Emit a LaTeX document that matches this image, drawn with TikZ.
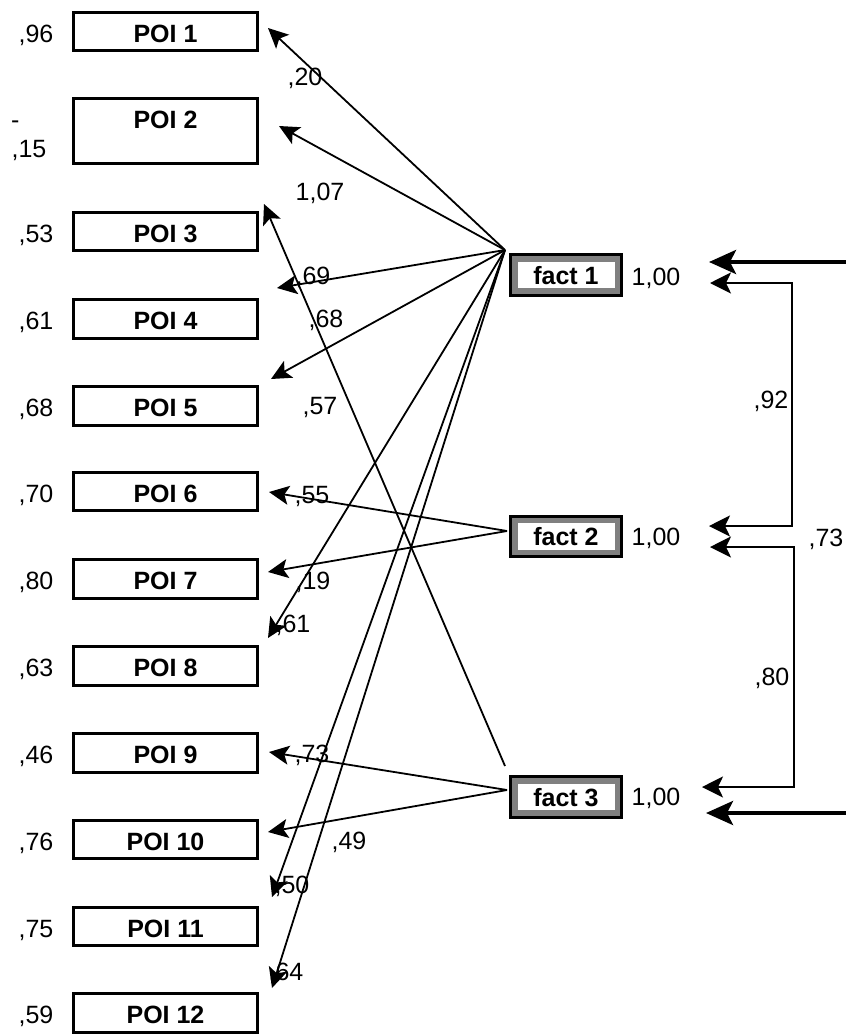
\documentclass[tikz,border=0pt]{standalone}
\usepackage{fontspec}
\setmainfont{Liberation Sans}
\usetikzlibrary{arrows.meta}
\definecolor{fgray}{RGB}{128,128,128}
\begin{document}
\begin{tikzpicture}[x=1pt,y=-1pt,
  every node/.style={font=\fontsize{25}{30}\selectfont},
  poi/.style={draw, line width=3pt, minimum width=184pt, minimum height=38.5pt,
    inner sep=0pt, font=\fontsize{25}{30}\selectfont\bfseries, text height=21pt, text depth=0pt},
  fact/.style={draw, line width=3pt, fill=fgray, minimum width=111pt, minimum height=40.5pt,
    inner sep=0pt, font=\fontsize{25}{30}\selectfont\bfseries, text height=18pt, text depth=0pt,
    path picture={\fill[white] ([shift={(7pt,7pt)}]path picture bounding box.south west)
      rectangle ([shift={(-7pt,-7pt)}]path picture bounding box.north east);}},
  lbl/.style={inner sep=0pt, text height=17.6pt, text depth=0pt},
  load/.style={line width=1.8pt, -{Stealth[length=20pt,width=19pt,inset=4.5pt]}},
  corr/.style={line width=2pt, {Stealth[length=21pt,width=21pt,inset=5pt]}-{Stealth[length=21pt,width=21pt,inset=5pt]}},
  thickarr/.style={line width=4pt, -{Stealth[length=27pt,width=24pt,inset=6pt]}}]
\useasboundingbox (0,0) rectangle (846,1034);

% observed variables
\node[poi] (p1) at (165.5,31.5) {POI 1};
\node[poi, minimum height=65pt, text depth=22pt, text height=17.6pt] (p2) at (165.5,131) {POI 2};
\node[poi] (p3) at (165.5,231.5) {POI 3};
\node[poi] (p4) at (165.5,319) {POI 4};
\node[poi] (p5) at (165.5,406) {POI 5};
\node[poi] (p6) at (165.5,491.5) {POI 6};
\node[poi] (p7) at (165.5,579) {POI 7};
\node[poi] (p8) at (165.5,666) {POI 8};
\node[poi] (p9) at (165.5,753) {POI 9};
\node[poi] (p10) at (165.5,839.5) {POI 10};
\node[poi] (p11) at (165.5,926.5) {POI 11};
\node[poi] (p12) at (165.5,1013) {POI 12};

% left values
\node[lbl] (v1) at (36,33.5) {,96};
\node[inner sep=0pt, anchor=base west] (v2a) at (11,128) {-};
\node[lbl] (v2) at (29,148.6) {,15};
\node[lbl] (v3) at (36,233.5) {,53};
\node[lbl] (v4) at (36,321) {,61};
\node[lbl] (v5) at (36,408) {,68};
\node[lbl] (v6) at (36,493.5) {,70};
\node[lbl] (v7) at (36,581) {,80};
\node[lbl] (v8) at (36,668) {,63};
\node[lbl] (v9) at (36,755) {,46};
\node[lbl] (v10) at (36,841.5) {,76};
\node[lbl] (v11) at (36,928.5) {,75};
\node[lbl] (v12) at (36,1015) {,59};

% factors
\node[fact] (f1) at (566,275) {fact 1};
\node[fact] (f2) at (566,536.5) {fact 2};
\node[fact] (f3) at (566,797) {fact 3};
\node[lbl] (f1v) at (656,277) {1,00};
\node[lbl] (f2v) at (656,537) {1,00};
\node[lbl] (f3v) at (656,797) {1,00};

% loading start / tip points
\coordinate (s1) at (505,250);
\coordinate (s2) at (507,531);
\coordinate (s3) at (507,790);
\coordinate (s3t) at (505,766);
\coordinate (a1) at (268,28);
\coordinate (a2) at (279,126);
\coordinate (a3) at (264,204);
\coordinate (a4) at (277,288);
\coordinate (a5) at (271,379);
\coordinate (a6) at (269,492);
\coordinate (a7) at (268,572);
\coordinate (a8) at (268,638);
\coordinate (a9) at (269,752);
\coordinate (a10) at (268,832);
\coordinate (a11) at (272,897);
\coordinate (a12) at (272,988);

\draw[load] (s1) -- (a1);
\draw[load] (s1) -- (a2);
\draw[load] (s3t) -- (a3);
\draw[load] (s1) -- (a4);
\draw[load] (s1) -- (a5);
\draw[load] (s2) -- (a6);
\draw[load] (s2) -- (a7);
\draw[load] (s1) -- (a8);
\draw[load] (s3) -- (a9);
\draw[load] (s3) -- (a10);
\draw[load] (s1) -- (a11);
\draw[load] (s1) -- (a12);

% loading labels
\node[lbl] (l1) at (305,77) {,20};
\node[lbl] (l2) at (320,191.5) {1,07};
\node[lbl] (l3) at (313,275.5) {,69};
\node[lbl] (l4) at (326,319) {,68};
\node[lbl] (l5) at (320,406) {,57};
\node[lbl] (l6) at (312,494.6) {,55};
\node[lbl] (l7) at (313,581) {,19};
\node[lbl] (l8) at (293,623.6) {,61};
\node[lbl] (l9) at (312,753.6) {,73};
\node[lbl] (l10) at (349,841) {,49};
\node[lbl] (l11) at (292,884.6) {,50};
\node[lbl] (l12) at (286,971.6) {,64};

% covariances
\coordinate (c1a) at (710,283);
\coordinate (c1b) at (709,526);
\coordinate (c1k) at (792,400);
\coordinate (c2a) at (710,547);
\coordinate (c2b) at (702,787);
\coordinate (c2k) at (794,670);
\draw[corr] (c1a) -| (c1k) |- (c1b);
\draw[corr] (c2a) -| (c2k) |- (c2b);
\node[lbl] (r1) at (771,400) {,92};
\node[lbl] (r2) at (772,677) {,80};

\coordinate (e1) at (852,262);
\coordinate (t1) at (709,262);
\coordinate (e3) at (852,813);
\coordinate (t3) at (706,813);
\draw[thickarr] (e1) -- (t1);
\draw[thickarr] (e3) -- (t3);
\node[lbl] (r3) at (826,538) {,73};
\end{tikzpicture}
\end{document}
